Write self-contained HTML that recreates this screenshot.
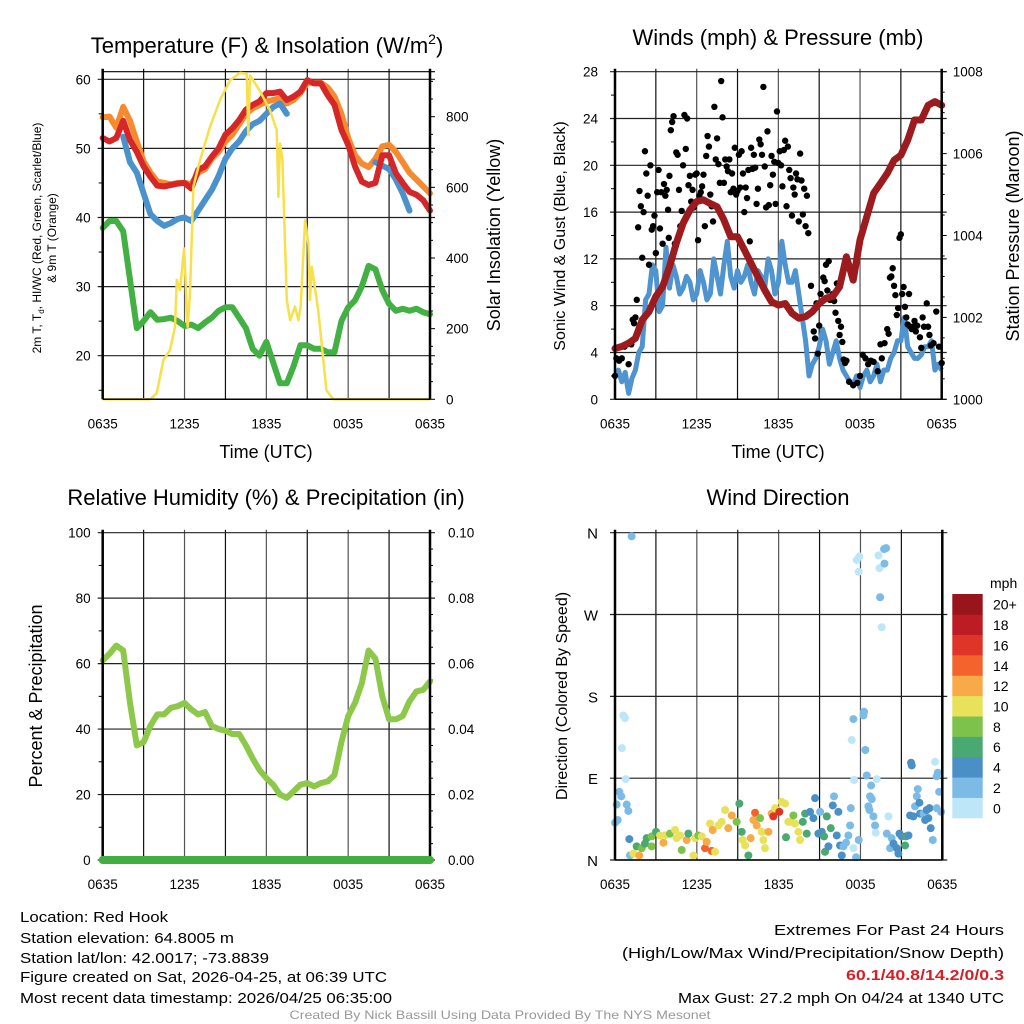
<!DOCTYPE html>
<html><head><meta charset="utf-8"><style>
html,body{margin:0;padding:0;background:#fff;}
svg{display:block;font-family:"Liberation Sans",sans-serif;}
</style></head><body>
<svg id="chart" width="1024" height="1024" viewBox="0 0 1024 1024" xmlns="http://www.w3.org/2000/svg">
<rect width="1024" height="1024" fill="#fff"/>
<g id="p1"></g>
<g id="p2"></g>
<g id="p3"></g>
<g id="p4"></g>
<text x="267" y="53" font-size="22" text-anchor="middle">Temperature (F) &amp; Insolation (W/m<tspan font-size="14" dy="-9">2</tspan><tspan dy="9">)</tspan></text>
<text x="778" y="45" font-size="22" text-anchor="middle">Winds (mph) &amp; Pressure (mb)</text>
<text x="266" y="505" font-size="22" text-anchor="middle">Relative Humidity (%) &amp; Precipitation (in)</text>
<text x="778" y="505" font-size="22" text-anchor="middle">Wind Direction</text>
<text x="266" y="458" font-size="18" text-anchor="middle">Time (UTC)</text>
<text x="778" y="458" font-size="18" text-anchor="middle">Time (UTC)</text>
<text transform="translate(41,238) rotate(-90)" font-size="12" text-anchor="middle">2m T, T<tspan font-size="8" dy="3">d</tspan><tspan dy="-3">, HI/WC (Red, Green, Scarlet/Blue)</tspan></text>
<text transform="translate(56,238) rotate(-90)" font-size="12" text-anchor="middle">&amp; 9m T (Orange)</text>
<text transform="translate(500,235) rotate(-90)" font-size="18" text-anchor="middle">Solar Insolation (Yellow)</text>
<text transform="translate(565,236) rotate(-90)" font-size="16" text-anchor="middle">Sonic Wind &amp; Gust (Blue, Black)</text>
<text transform="translate(1019,236) rotate(-90)" font-size="18" text-anchor="middle">Station Pressure (Maroon)</text>
<text transform="translate(42,696) rotate(-90)" font-size="18" text-anchor="middle">Percent &amp; Precipitation</text>
<text transform="translate(567,696) rotate(-90)" font-size="16" text-anchor="middle">Direction (Colored By Speed)</text>
<g font-size="15">
<text x="20" y="922" textLength="148" lengthAdjust="spacingAndGlyphs">Location: Red Hook</text>
<text x="20" y="943" textLength="214" lengthAdjust="spacingAndGlyphs">Station elevation: 64.8005 m</text>
<text x="20" y="963" textLength="249" lengthAdjust="spacingAndGlyphs">Station lat/lon: 42.0017; -73.8839</text>
<text x="20" y="982" textLength="367" lengthAdjust="spacingAndGlyphs">Figure created on Sat, 2026-04-25, at 06:39 UTC</text>
<text x="20" y="1003" textLength="372" lengthAdjust="spacingAndGlyphs">Most recent data timestamp: 2026/04/25 06:35:00</text>
<text x="1004" y="935" text-anchor="end" textLength="230" lengthAdjust="spacingAndGlyphs">Extremes For Past 24 Hours</text>
<text x="1004" y="958" text-anchor="end" textLength="382" lengthAdjust="spacingAndGlyphs">(High/Low/Max Wind/Precipitation/Snow Depth)</text>
<text x="1004" y="980" text-anchor="end" fill="#d62027" font-weight="bold" textLength="158" lengthAdjust="spacingAndGlyphs">60.1/40.8/14.2/0/0.3</text>
<text x="1004" y="1003" text-anchor="end" textLength="326" lengthAdjust="spacingAndGlyphs">Max Gust: 27.2 mph On 04/24 at 1340 UTC</text>
<text x="500" y="1019" text-anchor="middle" font-size="12" fill="#999" textLength="421" lengthAdjust="spacingAndGlyphs">Created By Nick Bassill Using Data Provided By The NYS Mesonet</text>
</g>
</svg>
<script>
// ---------- DATA ----------
const xTickLabels = ["0635","1235","1835","0035","0635"];
const hours = [0,0.5,1,1.5,2,2.5,3,3.5,4,4.5,5,5.5,6,6.5,7,7.5,8,8.5,9,9.5,10,10.5,11,11.5,12,12.5,13,13.5,14,14.5,15,15.5,16,16.5,17,17.5,18,18.5,19,19.5,20,20.5,21,21.5,22,22.5,23,23.5,24];
const tempRed = [51.5,51,51.5,54,51.2,49.5,47.4,45.9,44.6,44.5,44.7,44.9,45,44.2,46.9,47.4,48.8,50,52,52.9,54.1,55.6,56.3,56.8,58,58,58.2,57,57.5,58.2,59.9,59.4,59.4,57.7,56.3,52.7,50.5,47.4,45.2,44.7,45,49,49,46.4,45,43.7,43.3,42.5,41];
const tempOrange = [54.5,54.6,53,56,54,51,48.1,46.5,45.2,45,44.8,45,45,44.8,46.5,47,48.5,49.5,51,52,53.5,55,55.8,56.3,56.8,57,57.3,56.5,57,58,59.5,59.5,59.5,58.8,57.5,55,51.5,49,47.8,47.3,48.5,50.3,50.5,49.5,48,46.5,45.5,44.5,43.5];
const heatIndexBlue = [null,null,null,51.7,48,46.5,43.5,40.5,39.5,38.8,39.2,39.8,40,39.5,41,42.5,44,46,48.5,50,51,52.5,53.5,54,55,56,56.5,55,null,null,null,null,null,null,null,null,null,null,null,null,48,47.5,47,45.5,43.5,41,null,null,40.5];
const dewGreen = [38.5,39.5,39.5,38,31,24,25,26.3,25.2,25.3,25.5,25,24.3,24.5,24,24.8,25.5,26.5,27,27,25.5,24,21,20,22,19,16,16,18.5,21.5,21.5,21,21,20.5,20.5,25,27,28,30,33,32.5,29.5,27.5,26.5,26.8,26.5,26.8,26.3,26];
const solarHours = [0,3.47,3.96,4.45,4.94,5.3,5.43,5.67,5.97,6.23,6.4,6.65,7.14,7.87,8.6,9.34,10.07,10.56,10.68,10.8,11.5,12.27,12.76,12.88,13,13.18,13.5,13.74,14.1,14.35,14.52,14.84,15.08,15.2,15.33,15.8,16.4,16.9,24];
const solarValues = [0,0,17,111,140,205,338,309,427,205,300,602,677,771,847,903,924,922,748,917,875,818,762,573,724,677,281,224,262,224,262,507,441,281,375,253,26,0,0];
const pressure = [1001.24,1001.29,1001.37,1001.49,1001.94,1002.14,1002.51,1002.75,1003.24,1003.81,1004.3,1004.62,1004.83,1004.87,1004.78,1004.7,1004.38,1003.97,1003.97,1003.65,1003.32,1002.99,1002.67,1002.38,1002.3,1002.34,1002.1,1001.98,1002.02,1002.14,1002.34,1002.47,1002.51,1002.75,1003.48,1002.91,1003.89,1004.46,1005.03,1005.27,1005.52,1005.84,1005.96,1006.33,1006.82,1006.82,1007.18,1007.27,1007.18];
const windHours = [0,0.25,0.5,0.75,1,1.25,1.5,1.75,2,2.25,2.5,2.75,3,3.25,3.5,3.75,4,4.25,4.5,4.75,5,5.25,5.5,5.75,6,6.25,6.5,6.75,7,7.25,7.5,7.75,8,8.25,8.5,8.75,9,9.25,9.5,9.75,10,10.25,10.5,10.75,11,11.25,11.5,11.75,12,12.25,12.5,12.75,13,13.25,13.5,13.75,14,14.25,14.5,14.75,15,15.25,15.5,15.75,16,16.25,16.5,16.75,17,17.25,17.5,17.75,18,18.25,18.5,18.75,19,19.25,19.5,19.75,20,20.25,20.5,20.75,21,21.25,21.5,21.75,22,22.25,22.5,22.75,23,23.25,23.5,23.75,24];
const windSpeed = [2,2.5,1.5,2.3,0.5,1.8,2.5,4,4.5,8.5,9,11.5,11,7.5,8,13,9.5,11.5,10.5,9,9.5,10.5,10,8.5,9,11,10,8.5,9,12,10.5,9,11.5,13.5,10.5,9.5,11,10,10.5,11.5,10,9,11,10.5,9.5,12,11,9,10,13.5,11.5,10,10,11,9,7,5,2,3,3.5,4.5,6,5,3,4,5,3.5,2.5,2,1.5,1.2,2,1,2,2.5,1.5,2,3,1.5,2.5,2.5,3.5,4,5,5,7,4.5,4,3.5,3.5,3.8,4.5,4.5,5,2.5,3,2.5];
const gustHours = [0,0.1,0.3,0.5,0.7,1.0,1.2,1.3,1.4,1.5,1.6,1.7,1.8,1.9,2.0,2.1,2.2,2.3,2.4,2.5,2.6,2.7,2.8,2.9,3.0,3.1,3.2,3.3,3.4,3.5,3.6,3.7,3.8,3.9,3.95,4.0,4.1,4.2,4.3,4.4,4.5,4.6,4.7,4.8,4.9,5.0,5.1,5.2,5.3,5.4,5.5,5.6,5.7,5.8,5.9,6.0,6.1,6.2,6.3,6.4,6.5,6.6,6.7,6.8,6.9,7.0,7.1,7.2,7.3,7.4,7.5,7.6,7.7,7.8,7.9,8.0,8.1,8.2,8.3,8.4,8.5,8.6,8.7,8.8,8.9,9.0,9.1,9.2,9.3,9.4,9.5,9.6,9.7,9.8,9.9,10.0,10.1,10.2,10.3,10.4,10.5,10.6,10.7,10.8,10.9,11.0,11.1,11.2,11.3,11.4,11.5,11.6,11.7,11.8,11.9,12.0,12.1,12.2,12.3,12.4,12.5,12.6,12.7,12.8,12.9,13.0,13.1,13.2,13.3,13.4,13.5,13.6,13.7,13.8,13.9,14.0,14.1,14.2,14.4,14.6,14.7,14.8,14.9,15.0,15.1,15.3,15.4,15.5,15.6,15.7,15.8,16.0,16.1,16.2,16.3,16.4,16.5,16.6,16.7,16.8,16.9,17.0,17.2,17.5,17.8,18.0,18.2,18.4,18.6,18.8,19.0,19.3,19.5,19.6,19.8,20.0,20.1,20.2,20.3,20.4,20.5,20.6,20.7,20.8,20.9,21.0,21.1,21.2,21.3,21.4,21.5,21.6,21.7,21.8,21.9,22.0,22.1,22.2,22.4,22.5,22.6,22.7,22.9,23.0,23.1,23.2,23.4,23.6,23.8,24.0];
const gustSpeed = [2,3.5,3.3,3.5,4.5,3,4.7,6.8,6.5,7,8.5,14.7,17.8,16.5,12.1,16,21.2,19.3,17.4,11.5,20,14.5,14.8,15.7,12.5,17.7,19.6,14.6,17.7,13.3,18.4,17.4,17.9,16.2,13.8,19.1,23,23.7,24.2,13.3,21.1,20.9,17.9,14.8,16.1,20,24.3,21.4,24,18.3,19.1,16.9,17.9,16.4,19.2,19.3,13.6,17.4,17.7,18.2,19.2,14.8,20.8,22.5,21.6,17.5,16.5,15.2,25,20.5,22.3,20.1,18.5,27.2,24.1,18.5,20.5,19.9,19.5,20.5,17.7,19.3,18,21.5,17.5,17.8,20.9,18.1,21.2,19.3,16,18.1,17.2,19.6,13.5,21.5,19.7,20.9,19.8,16.7,18,22.2,21.8,20.9,26.7,19.9,16.4,22.9,16.6,18.3,20.8,19.2,20.3,16.7,24.6,20.2,21.2,20,18.2,21.3,22.1,16.5,21.6,19.6,18.9,15.7,18.1,17.5,19.3,18.8,15.2,21,18.7,15.8,18,14.8,17.4,14.2,9.7,5.8,5.2,8.2,3.9,6.3,9,10.4,10.1,11.5,9.3,11.8,8.5,9,8.4,7.4,9.9,6.7,5.5,6.2,4.9,3.4,3.1,3.3,1.5,1.2,1.4,2,3.8,3.5,3,3.3,3.2,2.4,4.7,3.5,4.8,6,5.6,10.4,10.5,11.2,9.7,8.9,7.2,7.8,13.8,14.1,9,9.6,7.9,7,6.4,9,6.2,6,6.2,6.7,5.8,6.3,5.3,4.4,7,6.2,8.2,6.2,5.5,4.6,4.8,7.5,4.5,3.1];
const humidity = [61,63,65.5,64,48,35,36,41,44.5,44.5,46.5,47,48,46,44.5,45.2,41,40,39.5,38.5,38.5,35,31,27.5,25,23,20,19,21,23,23.5,22.5,23.5,24,26,36,44,48,54,64,61.5,50,43,43,44,48.5,51.5,52,54.5];
const precip = [0,0,0,0,0,0,0,0,0,0,0,0,0,0,0,0,0,0,0,0,0,0,0,0,0,0,0,0,0,0,0,0,0,0,0,0,0,0,0,0,0,0,0,0,0,0,0,0,0];
const dirHours = [1.22,0.61,0.73,0.51,0.78,0.32,0.46,0.12,0.86,0.98,0,0.2,1.05,1.1,1.34,1.78,1.59,1.96,2.2,2.32,2.69,2.69,3.01,3.3,3.55,3.67,4.03,4.4,4.52,4.77,4.89,5.26,5.38,5.75,5.87,6.11,6.36,6.6,6.72,6.97,7.09,7.16,7.33,7.58,7.82,8.07,8.31,8.56,8.92,9.12,9.29,9.36,9.54,9.78,9.95,10.15,10.27,10.39,10.64,10.76,10.88,11.0,11.25,11.49,11.61,11.74,12.05,12.22,12.47,12.54,12.71,12.88,13.08,13.2,13.45,13.57,13.77,13.94,14.06,14.3,14.55,14.67,14.91,15.04,15.16,15.33,15.4,15.53,15.65,15.82,15.97,16.06,16.26,16.38,16.5,16.63,16.75,16.94,17.11,17.24,17.29,17.48,17.68,17.87,17.53,17.48,17.36,17.73,17.92,17.87,18.26,18.22,18.36,18.46,18.78,18.7,18.83,18.58,18.66,18.95,19.07,19.12,19.19,19.32,19.39,19.73,19.88,19.76,19.44,19.56,19.93,20.05,20.17,20.29,20.42,20.66,20.78,20.86,21.03,21.27,21.34,21.52,21.71,21.76,21.64,21.88,22.0,22.13,22.2,22.32,22.37,22.62,22.74,22.86,22.98,23.06,23.15,23.3,23.47,23.59,23.67,23.77,23.59,23.91];
const dirDegrees = [356,159,156,123,89,75,70,61,61,54,41,44,23,5,7,5,15,13,18,24,26,15,31,27,19,27,29,33,24,27,11,22,29,5,24,27,26,13,20,40,10,33,9,38,42,55,35,49,42,62,31,22,16,5,24,44,52,38,46,31,22,13,31,51,48,57,53,64,62,25,42,42,49,40,31,22,42,51,29,53,46,68,29,53,31,26,9,48,15,35,60,70,27,53,16,5,15,19,27,38,57,13,3,22,88,155,132,330,334,317,163,159,121,93,82,70,67,59,55,48,38,30,89,335,321,342,343,326,289,256,29,48,13,24,18,13,7,29,26,16,26,27,107,104,49,48,59,70,78,63,51,51,44,55,46,57,35,22,108,92,96,75,57,53];
const dirSpeed = [3,1,1,1,1,3,2,3,3,3,3,3,4,3,10,12,7,8,6,7,8,8,7,10,12,10,8,10,10,10,8,12,7,10,10,8,10,14,12,10,14,12,10,10,10,10,12,12,8,7,6,10,10,7,12,12,14,12,8,10,10,10,12,12,16,10,16,10,10,7,10,10,8,10,10,10,7,7,6,4,4,4,4,3,4,6,6,6,4,6,4,3,4,4,4,4,3,3,3,3,3,1,2,2,1,2,1,1,1,1,2,2,3,3,3,3,3,3,3,3,3,1,1,1,1,3,3,3,3,1,3,1,3,3,4,4,4,4,4,6,6,4,4,4,4,4,3,3,3,4,4,3,4,4,4,4,4,3,1,3,3,3,3,3];
const speedBins = ["0","2","4","6","8","10","12","14","16","18","20+"];
const speedColors = ["#bde6f8","#7bbbe6","#4a8fc6","#4aa873","#7dc24a","#e7e25a","#f8aa48","#f2642b","#df3428","#bd1c24","#98151b"];
const tempTicks = [20,30,40,50,60];
const solarTicks = [0,200,400,600,800];
const windTicks = [0,4,8,12,16,20,24,28];
const pressTicks = [1000,1002,1004,1006,1008];
const rhTicks = [0,20,40,60,80,100];
const precipTicks = ["0.00","0.02","0.04","0.06","0.08","0.10"];
const dirTicks = ["N","E","S","W","N"];

// ---------- HELPERS ----------
const NS = "http://www.w3.org/2000/svg";
function mk(parent, tag, attrs){ const e=document.createElementNS(NS,tag); for(const k in attrs) e.setAttribute(k,attrs[k]); parent.appendChild(e); return e; }
function lin(d0,d1,r0,r1){ return v => r0 + (v-d0)*(r1-r0)/(d1-d0); }
function pathFrom(xs, ys, fx, fy){ let d="", pen=false; for(let i=0;i<xs.length;i++){ if(ys[i]===null||ys[i]===undefined){pen=false;continue;} d += (pen?"L":"M")+fx(xs[i]).toFixed(1)+","+fy(ys[i]).toFixed(1); pen=true;} return d; }

function frame(g, L, R, T, B){
  const fx = lin(0,24,L,R);
  for(let h=3; h<24; h+=3){
    const ln = mk(g,"line",{x1:fx(h),x2:fx(h),y1:T-3,y2:B,stroke:(h%6===0?"#555":"#111"),"stroke-width":1.2});
    
    
  }
  for(let i=0;i<xTickLabels.length;i++){
    const t = mk(g,"text",{x:fx(i*6),y:B+29,"font-size":13.5,"text-anchor":"middle"});
    t.textContent = xTickLabels[i];
    
    
  }
  return fx;
}
function hgrid(g,L,R,y,name){ const ln=mk(g,"line",{x1:L-5,x2:R+5,y1:y,y2:y,stroke:"#222","stroke-width":1.2});   }
function axesBox(g,L,R,T,B){
  mk(g,"line",{x1:L,x2:L,y1:T-3,y2:B,stroke:"#000","stroke-width":2.5});
  mk(g,"line",{x1:R,x2:R,y1:T-3,y2:B,stroke:"#000","stroke-width":2.5});
  mk(g,"line",{x1:L,x2:R,y1:B,y2:B,stroke:"#000","stroke-width":1.5});
}
function label(g,x,y,txt,anchor,name,size){ const t=mk(g,"text",{x:x,y:y,"font-size":size||13.5,"text-anchor":anchor}); t.textContent=txt;   return t; }

// ---------- PANEL 1 ----------
(function(){
  const g=document.getElementById("p1"); const L=102.7,R=430,T=71.7,B=399.3;
  const fx=frame(g,L,R,T,B);
  const fy=lin(60,20,79.3,355.7); const fs=lin(0,800,399.3,116.7);
  mk(g,"line",{x1:L,x2:R+5,y1:T,y2:T,stroke:"#000","stroke-width":1.2});
  tempTicks.forEach(v=>{ hgrid(g,L,R,fy(v),'temp-gridline'); label(g,L-12,fy(v)+5,String(v),"end",'temp-tick-label'); });
  for(let v=15; v<=60; v+=5){ if(v%10) mk(g,"line",{x1:L-4,x2:L,y1:fy(v),y2:fy(v),stroke:"#000"}); }
  solarTicks.forEach(v=>{ mk(g,"line",{x1:R,x2:R+5,y1:fs(v),y2:fs(v),stroke:"#000"}); label(g,R+16,fs(v)+5,String(v),"start",'solar-tick-label'); });
  for(let v=50; v<=900; v+=50){ if(v%200) mk(g,"line",{x1:R,x2:R+3,y1:fs(v),y2:fs(v),stroke:"#000"}); }
  const s1=mk(g,"path",{d:pathFrom(hours,dewGreen,fx,fy),fill:"none",stroke:"#43b043","stroke-width":6,"stroke-linejoin":"round","stroke-linecap":"round"});
   
  const s2=mk(g,"path",{d:pathFrom(hours,tempOrange,fx,fy),fill:"none",stroke:"#f58b2e","stroke-width":6,"stroke-linejoin":"round","stroke-linecap":"round"});
   
  const s3=mk(g,"path",{d:pathFrom(hours,heatIndexBlue,fx,fy),fill:"none",stroke:"#4b92cc","stroke-width":6,"stroke-linejoin":"round","stroke-linecap":"round"});
   
  const s4=mk(g,"path",{d:pathFrom(hours,tempRed,fx,fy),fill:"none",stroke:"#d62728","stroke-width":6,"stroke-linejoin":"round","stroke-linecap":"round"});
   
  const s5=mk(g,"path",{d:pathFrom(solarHours,solarValues,fx,fs),fill:"none",stroke:"#f8e04a","stroke-width":2.5,"stroke-linejoin":"round"});
   
  axesBox(g,L,R,T,B);
})();

// ---------- PANEL 2 ----------
(function(){
  const g=document.getElementById("p2"); const L=615,R=941.7,T=71.7,B=399.3;
  const fx=frame(g,L,R,T,B);
  const fy=lin(0,28,399.3,71.7); const fp=lin(1000,1008,399.3,71.7);
  windTicks.forEach(v=>{ hgrid(g,L,R,fy(v),'wind-gridline'); label(g,L-17,fy(v)+5,String(v),"end",'wind-tick-label'); });
  for(let v=2; v<28; v+=4) mk(g,"line",{x1:L-4,x2:L,y1:fy(v),y2:fy(v),stroke:"#000"});
  pressTicks.forEach(v=>{ mk(g,"line",{x1:R,x2:R+5,y1:fp(v),y2:fp(v),stroke:"#000"}); label(g,R+11,fp(v)+5,String(v),"start",'pressure-tick-label'); });
  for(let v=1000.5; v<1008; v+=0.5){ if(v%2) mk(g,"line",{x1:R,x2:R+3,y1:fp(v),y2:fp(v),stroke:"#000"}); }
  const w=mk(g,"path",{d:pathFrom(windHours,windSpeed,fx,fy),fill:"none",stroke:"#4f93cf","stroke-width":5,"stroke-linejoin":"round"});
   
  for(let i=0;i<gustHours.length;i++){
    const c=mk(g,"circle",{cx:fx(gustHours[i]),cy:fy(gustSpeed[i]),r:3.2,fill:"#000"});
     
  }
  const p=mk(g,"path",{d:pathFrom(hours,pressure,fx,fp),fill:"none",stroke:"#9b1b1e","stroke-width":7,"stroke-linejoin":"round","stroke-linecap":"round"});
   
  axesBox(g,L,R,T,B);
})();

// ---------- PANEL 3 ----------
(function(){
  const g=document.getElementById("p3"); const L=102.7,R=430,T=532.7,B=860;
  const fx=frame(g,L,R,T,B);
  const fy=lin(0,100,860,532.7); const fq=lin(0,0.1,860,532.7);
  rhTicks.forEach((v,i)=>{ hgrid(g,L,R,fy(v),'humidity-gridline'); label(g,L-12,fy(v)+5,String(v),"end",'humidity-tick-label'); label(g,R+18,fy(v)+5,precipTicks[i],"start",'precip-tick-label'); });
  for(let v=10; v<100; v+=20) mk(g,"line",{x1:L-4,x2:L,y1:fy(v),y2:fy(v),stroke:"#000"});
  for(let v=5; v<100; v+=5){ if(v%20) mk(g,"line",{x1:R,x2:R+3,y1:fy(v),y2:fy(v),stroke:"#000"}); }
  const h=mk(g,"path",{d:pathFrom(hours,humidity,fx,fy),fill:"none",stroke:"#8dc84a","stroke-width":6,"stroke-linejoin":"round","stroke-linecap":"round"});
   
  axesBox(g,L,R,T,B);
  const q=mk(g,"path",{d:pathFrom(hours,precip,fx,fq),fill:"none",stroke:"#40ae40","stroke-width":8,"stroke-linecap":"round"});
   
})();

// ---------- PANEL 4 ----------
(function(){
  const g=document.getElementById("p4"); const L=615,R=942.3,T=532.7,B=860;
  const fx=frame(g,L,R,T,B);
  const fy=lin(0,360,860,532.7);
  dirTicks.forEach((v,i)=>{ hgrid(g,L,R,fy(i*90),'direction-gridline'); label(g,L-17,fy(i*90)+6,v,"end",'direction-tick-label',15); });
  const n=Math.min(dirHours.length,dirDegrees.length,dirSpeed.length);
  for(let i=0;i<n;i++){
    const bin=Math.min(10,Math.floor(dirSpeed[i]/2));
    const c=mk(g,"circle",{cx:fx(dirHours[i]),cy:fy(dirDegrees[i]),r:4,fill:speedColors[bin]});
     
  }
  axesBox(g,L,R,T,B);
  const top=594, bot=818, bh=(bot-top)/speedBins.length;
  label(g,990,588,"mph","start",'colorbar-title',14);
  for(let i=0;i<speedBins.length;i++){
    const y=bot-(i+1)*bh;
    const r=mk(g,"rect",{x:952.3,y:y,width:30.4,height:bh+0.3,fill:speedColors[i]});
     
    label(g,993,y+bh/2+5.5,speedBins[i],"start",'colorbar-label',14);
  }
})();
</script>
</body></html>
